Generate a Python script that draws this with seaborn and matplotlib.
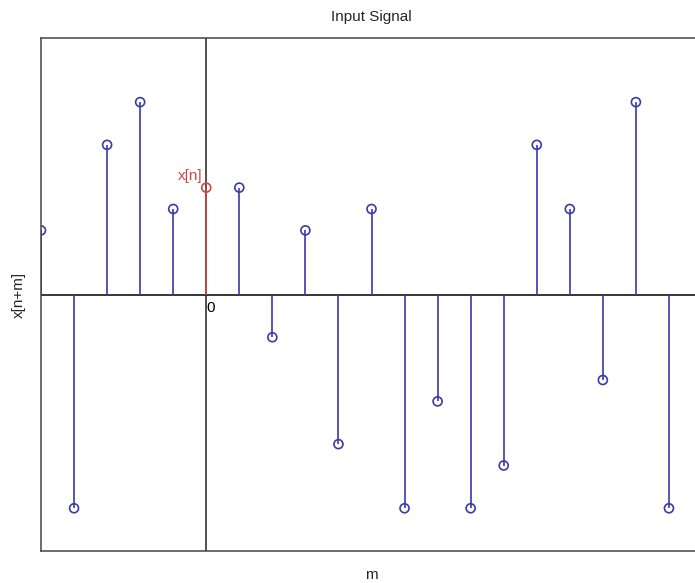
import numpy as np
import pandas as pd
import matplotlib
matplotlib.use("Agg")
import matplotlib.pyplot as plt
import seaborn as sns

# data
m_values = list(range(-5, 15))
x_values = [0.3, -1.0, 0.7, 0.9, 0.4, 0.5, 0.5, -0.2, 0.3, -0.7,
            0.4, -1.0, -0.5, -1.0, -0.8, 0.7, 0.4, -0.4, 0.9, -1.0]
highlight_m = 0

df = pd.DataFrame({"m": m_values, "x": x_values})
df["kind"] = np.where(df["m"] == highlight_m, "x[n]", "other")

blue = "#3a3aa8"
red = "#d04545"

sns.set_theme(style="white")
plt.rcParams["font.family"] = ["Liberation Sans", "DejaVu Sans"]

fig = plt.figure(figsize=(6.95, 5.83), dpi=100)
ax = fig.add_axes([41 / 695, 1 - 551 / 583, 661 / 695, 513 / 583])

# axes lines through the origin
ax.axhline(0, color="black", lw=1.1, zorder=1)
ax.axvline(0, color="#222222", lw=1.1, zorder=1)

others = df[df["kind"] == "other"]
hl = df[df["kind"] == "x[n]"]
ax.vlines(others["m"], 0, others["x"], color=blue, lw=1.2, zorder=2)
ax.vlines(hl["m"], 0, hl["x"], color=red, lw=1.2, zorder=3)

sns.scatterplot(data=df, x="m", y="x", hue="kind",
                palette={"other": blue, "x[n]": red},
                marker="o", s=42, linewidth=1.2,
                legend=False, ax=ax, zorder=4)
# open circles: move the hue colour to the edge
coll = ax.collections[-1]
fc = coll.get_facecolors()
coll.set_edgecolors(fc)
coll.set_facecolors("none")

ax.text(hl["m"].iloc[0] - 0.1, hl["x"].iloc[0] + 0.02, "x[n]", color=red,
        fontsize=11, ha="right", va="bottom")
ax.text(0.0, -0.03, "0", color="black", fontsize=11, ha="left", va="top")

ax.set_xlim(-5, 15)
ax.set_ylim(-1.2, 1.2)
ax.set_xticks([])
ax.set_yticks([])
ax.set_title("Input Signal", fontsize=11, pad=12)
ax.set_xlabel("m", fontsize=11, labelpad=12)
ax.set_ylabel("x[n+m]", fontsize=11, labelpad=11)

for side in ["left", "top", "bottom", "right"]:
    ax.spines[side].set_color("#444444")
    ax.spines[side].set_linewidth(1.1)

fig.savefig("out.png", dpi=100)
